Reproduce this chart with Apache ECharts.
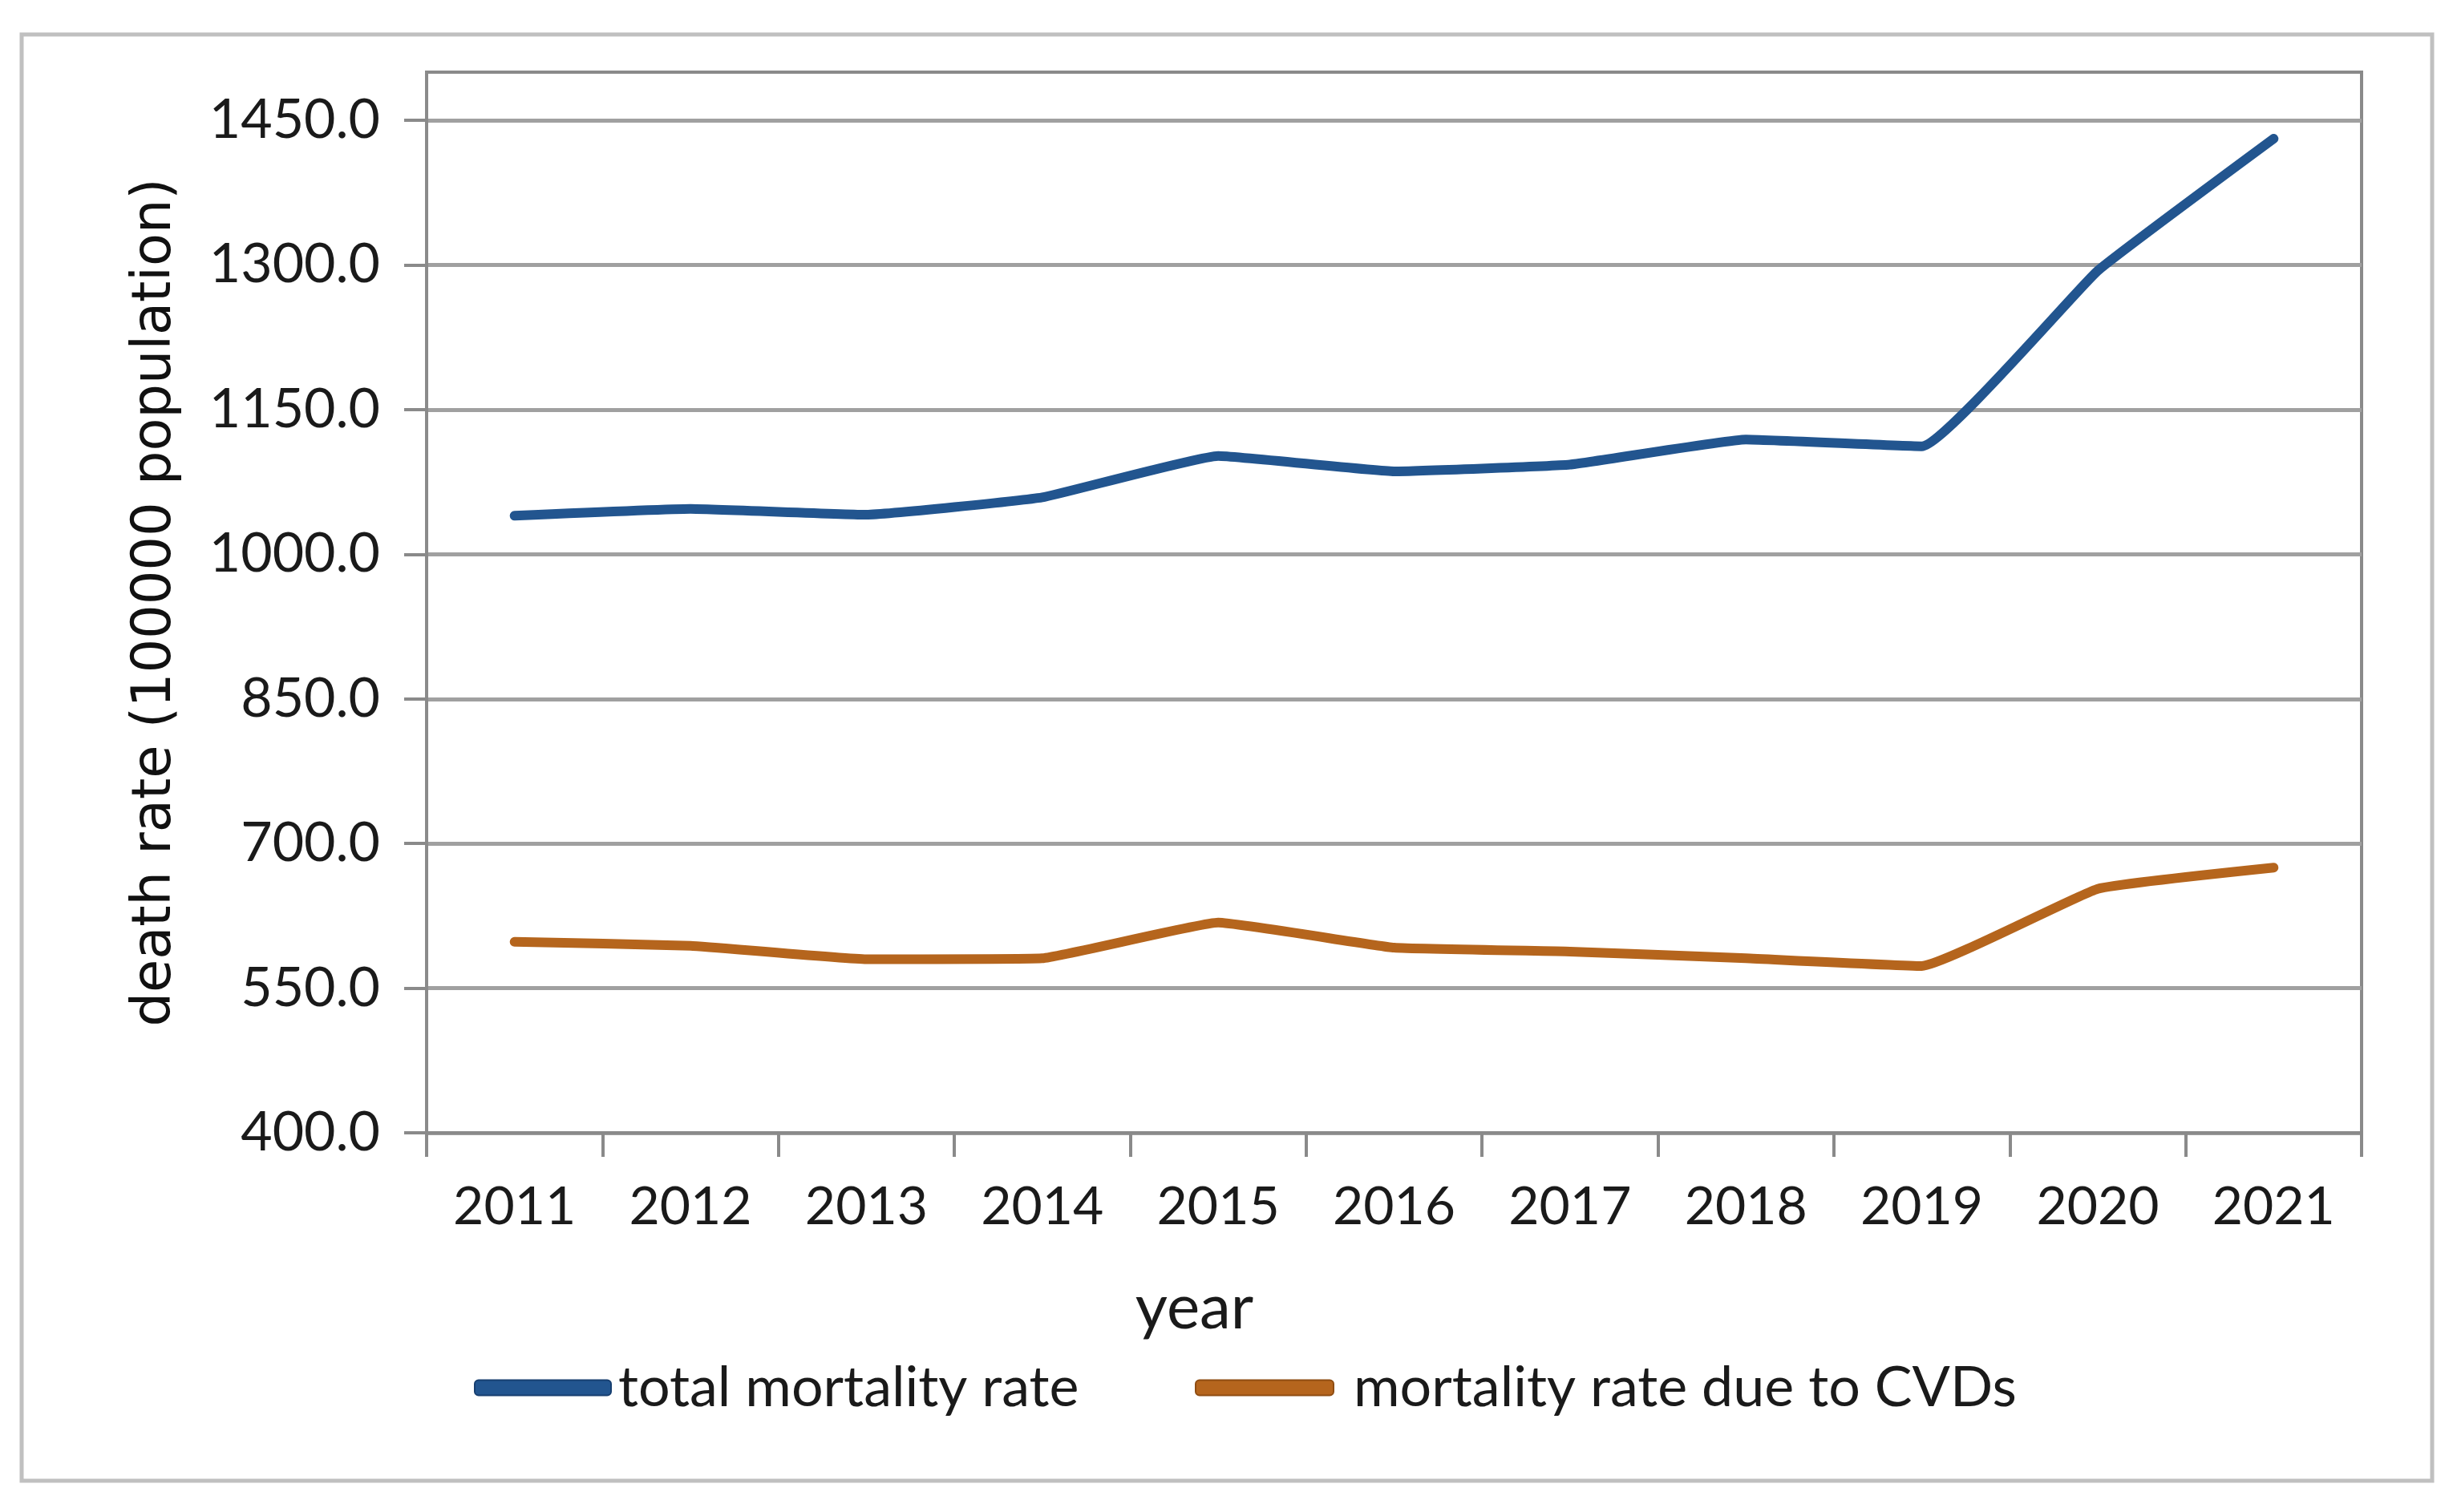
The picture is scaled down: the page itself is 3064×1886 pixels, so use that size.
<!DOCTYPE html>
<html>
<head>
<meta charset="utf-8">
<script src="https://cdn.jsdelivr.net/npm/echarts@6/dist/echarts.min.js"></script>
<style>
html,body{margin:0;padding:0;background:#fff;}
#chart{width:3064px;height:1886px;}
</style>
</head>
<body>
<div id="chart"></div>
<script>
const years = ['2011','2012','2013','2014','2015','2016','2017','2018','2019','2020','2021'];
const totalMortality = [1040, 1047, 1041, 1059, 1102, 1086, 1093, 1119, 1112, 1294, 1431];
const cvdMortality = [598, 594, 580, 581, 618, 592, 588, 581, 573, 653, 675];
const yTicks = [400, 550, 700, 850, 1000, 1150, 1300, 1450];
const seriesNames = ['total mortality rate', 'mortality rate due to CVDs'];

const chart = echarts.init(document.getElementById('chart'));
const font = 'Lato';
const legendText = {fontFamily: font, fontSize: 70, color: '#1a1a1a', lineHeight: 80, padding: [0, 0, 0, 4]};
chart.setOption({
  backgroundColor: '#ffffff',
  animation: false,
  graphic: [{
    type: 'rect',
    shape: {x: 27, y: 43, width: 3006, height: 1804},
    style: {fill: 'none', stroke: '#c0c0c0', lineWidth: 5},
    silent: true
  }],
  grid: {left: 532, right: 119, top: 90, bottom: 473, show: true, borderColor: '#8a8a8a', borderWidth: 4, backgroundColor: 'transparent'},
  legend: [{
    data: [seriesNames[0]], left: 586, top: 1686, icon: 'roundRect', itemWidth: 170, itemHeight: 19,
    textStyle: legendText
  }, {
    data: [seriesNames[1]], left: 1485, top: 1686, icon: 'roundRect', itemWidth: 172, itemHeight: 19,
    textStyle: Object.assign({}, legendText, {padding: [0, 0, 0, 20]})
  }],
  xAxis: {
    type: 'category',
    data: years,
    boundaryGap: true,
    name: 'year',
    nameLocation: 'middle',
    nameGap: 180,
    nameTextStyle: {fontFamily: font, fontSize: 78, color: '#1a1a1a', padding: [0, 498, 0, 0]},
    axisLine: {lineStyle: {color: '#8a8a8a', width: 4}},
    axisTick: {show: true, length: 30, interval: 0, lineStyle: {color: '#8a8a8a', width: 4}},
    axisLabel: {fontFamily: font, fontSize: 66, color: '#1a1a1a', margin: 60, interval: 0},
    splitLine: {show: false}
  },
  yAxis: {
    type: 'value',
    min: 400,
    max: 1500,
    name: 'death rate (100000 population)',
    nameLocation: 'middle',
    nameRotate: 90,
    nameGap: 304,
    nameTextStyle: {fontFamily: 'DejaVu Sans', fontSize: 67, color: '#111111'},
    axisLine: {show: true, lineStyle: {color: '#8a8a8a', width: 4}},
    axisTick: {show: true, length: 28, customValues: yTicks, lineStyle: {color: '#8a8a8a', width: 4}},
    axisLabel: {fontFamily: font, fontSize: 68, color: '#1a1a1a', margin: 58, customValues: yTicks,
      formatter: function (v) { return Number(v).toFixed(1); }},
    splitLine: {show: true, lineStyle: {color: '#a0a0a0', width: 5}}
  },
  series: [{
    name: seriesNames[0],
    type: 'line',
    data: totalMortality,
    smooth: 0.1,
    symbol: 'none',
    lineStyle: {color: '#22558f', width: 12, cap: 'round', join: 'round'},
    itemStyle: {color: '#22558f', borderColor: '#173f70', borderWidth: 2}
  }, {
    name: seriesNames[1],
    type: 'line',
    data: cvdMortality,
    smooth: 0.1,
    symbol: 'none',
    lineStyle: {color: '#b5651d', width: 12, cap: 'round', join: 'round'},
    itemStyle: {color: '#b5651d', borderColor: '#8f4d12', borderWidth: 2}
  }]
});
</script>
</body>
</html>
